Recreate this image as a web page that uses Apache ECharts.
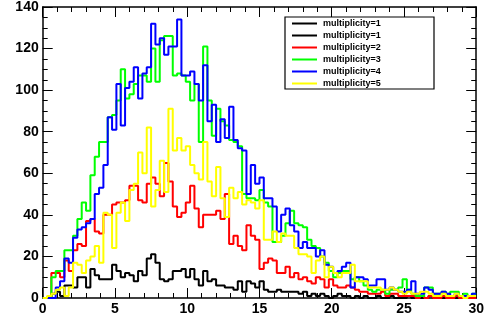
<!DOCTYPE html>
<html><head><meta charset="utf-8">
<script src="https://cdn.jsdelivr.net/npm/echarts@6/dist/echarts.min.js"></script>
<style>html,body{margin:0;padding:0;background:#fff}#c{width:487px;height:320px}</style>
</head><body><div id="c"></div>
<script>
// Histogram binning: 100 bins of width 0.3 from 0 to 30
const binWidth = 0.3;
const xMin = 0, xMax = 30;
const yMin = 0, yMax = 140;
const legendLabels = ['multiplicity=1','multiplicity=1','multiplicity=2','multiplicity=3','multiplicity=4','multiplicity=5'];
const legendColors = ['#000000','#000000','#ff0000','#00ff00','#0000ff','#ffff00'];

const mult1 = [0,0,2,3,1,6,6,5,10,10, 5,14,11,9,9,9,16,13,10,12, 11,8,13,11,19,21,17,9,8,9,
  13,13,14,10,14,9,6,13,8,9, 6,6,5,5,4,8,3,8,7,5, 8,4,3,3,4,3,3,3,3,2,
  3,1,2,1,2,1,0,1,2,1, 1,0,1,0,1,0,0,1,0,0, 1,0,0,0,1,0,0,0,0,1, 0,0,0,0,1,0,0,0,0,0];
const mult2 = [0,0,12,12,10,18,13,23,26,25, 37,38,32,31,40,40,45,46,46,47, 54,54,47,46,55,58,55,49,65,56,
  44,39,41,46,54,43,34,40,40,40, 42,38,50,26,30,25,23,35,30,28, 14,17,19,18,12,12,15,10,12,9,
  10,8,7,10,9,5,9,6,5,5, 6,5,4,3,3,2,2,2,3,1, 2,2,1,1,1,1,0,1,0,1, 0,0,1,0,0,1,0,0,0,0];
const mult3 = [0,0,10,13,13,23,23,30,38,46, 42,59,68,75,75,87,88,95,110,96, 98,103,107,107,104,120,104,124,126,126,
  107,108,107,104,95,103,75,121,95,78, 91,85,83,76,75,73,50,48,48,47, 52,46,44,27,27,30,36,42,36,35,
  34,28,25,24,20,17,13,10,12,13, 13,9,10,8,6,4,3,4,4,2, 4,4,5,9,4,2,1,1,5,5, 2,2,3,2,3,3,1,2,1,2];
const mult4 = [0,0,0,5,8,19,17,29,33,34, 36,38,50,53,64,87,81,103,83,101, 104,111,96,108,111,132,122,125,117,121,
  121,134,107,107,109,103,95,112,85,93, 75,86,77,92,76,72,71,50,64,55, 58,48,48,44,32,40,43,35,32,24,
  27,24,24,20,23,16,15,12,13,15, 17,5,10,10,9,6,6,9,9,4, 5,4,3,3,4,8,2,2,5,4, 2,2,3,2,1,2,1,1,1,2];
const mult5 = [0,1,2,4,5,1,5,17,16,12, 18,20,25,17,41,40,24,41,46,37, 52,55,70,60,82,44,52,66,51,91,
  71,77,71,73,64,60,57,75,56,49, 63,48,39,53,48,51,45,47,46,43, 47,28,28,32,27,31,30,30,24,21,
  21,20,12,18,20,10,15,12,10,12, 12,16,8,8,8,5,5,5,4,4, 5,4,3,2,3,2,2,3,3,2, 1,1,2,1,1,2,1,0,1,1];

function steps(vals){
  const pts = vals.map((v,i)=>[+(xMin + i*binWidth).toFixed(4), v]);
  pts.push([xMax, vals[vals.length-1]]);
  return pts;
}
const seriesDefs = [
  {name:'multiplicity=1', data: mult1, color:'#000000'},
  {name:'multiplicity=2', data: mult2, color:'#ff0000'},
  {name:'multiplicity=3', data: mult3, color:'#00ff00'},
  {name:'multiplicity=4', data: mult4, color:'#0000ff'},
  {name:'multiplicity=5', data: mult5, color:'#ffff00'}
];

const chart = echarts.init(document.getElementById('c'), null, {renderer:'canvas'});
const font = 'Liberation Sans, Arial, Helvetica, sans-serif';
const tickStyle = {color:'#000', width:1};
function xAx(pos, labels){
  return {type:'value', min:xMin, max:xMax, interval:5, position:pos,
    axisLine:{show:true, onZero:false, lineStyle:{color:'#000', width:1.5}},
    axisTick:{show:true, inside:true, length:10, lineStyle:tickStyle},
    minorTick:{show:true, splitNumber:5, length:5, lineStyle:tickStyle},
    axisLabel:{show:labels, color:'#000', fontFamily:font, fontWeight:'bold', fontSize:14, margin:4},
    splitLine:{show:false}, minorSplitLine:{show:false}};
}
function yAx(pos, labels){
  return {type:'value', min:yMin, max:yMax, interval:20, position:pos,
    axisLine:{show:true, onZero:false, lineStyle:{color:'#000', width:1.5}},
    axisTick:{show:true, inside:true, length:10, lineStyle:tickStyle},
    minorTick:{show:true, splitNumber:4, length:5, lineStyle:tickStyle},
    axisLabel:{show:labels, color:'#000', fontFamily:font, fontWeight:'bold', fontSize:14, margin:4},
    splitLine:{show:false}, minorSplitLine:{show:false}};
}

const legendX = 285, legendY = 17, legendW = 149, legendH = 72;
const graphics = [{type:'rect', shape:{x:legendX, y:legendY, width:legendW, height:legendH},
  style:{fill:'#fff', stroke:'#000', lineWidth:1.2}, z:100}];
legendLabels.forEach((lab,k)=>{
  const cy = legendY + 6.5 + 12*k;
  graphics.push({type:'line', shape:{x1:legendX+7, y1:cy, x2:legendX+32, y2:cy},
    style:{stroke:legendColors[k], lineWidth:2}, z:101});
  graphics.push({type:'text', x:legendX+38, y:cy, style:{text:lab, fill:'#000',
    font:'bold 9px ' + font, verticalAlign:'middle', align:'left'}, z:101});
});

chart.setOption({
  animation:false,
  backgroundColor:'#fff',
  grid:{left:42.7, right:10.3, top:5, bottom:22, containLabel:false},
  xAxis:[xAx('bottom', true), xAx('top', false)],
  yAxis:[yAx('left', true), yAx('right', false)],
  series: seriesDefs.map((s,k)=>({
    type:'line', name:s.name, step:'end', data: steps(s.data), xAxisIndex:0, yAxisIndex:0,
    symbol:'none', showSymbol:false, z:2+k,
    lineStyle:{color:s.color, width:2}, itemStyle:{color:s.color}
  })),
  graphic: graphics
});
</script></body></html>
